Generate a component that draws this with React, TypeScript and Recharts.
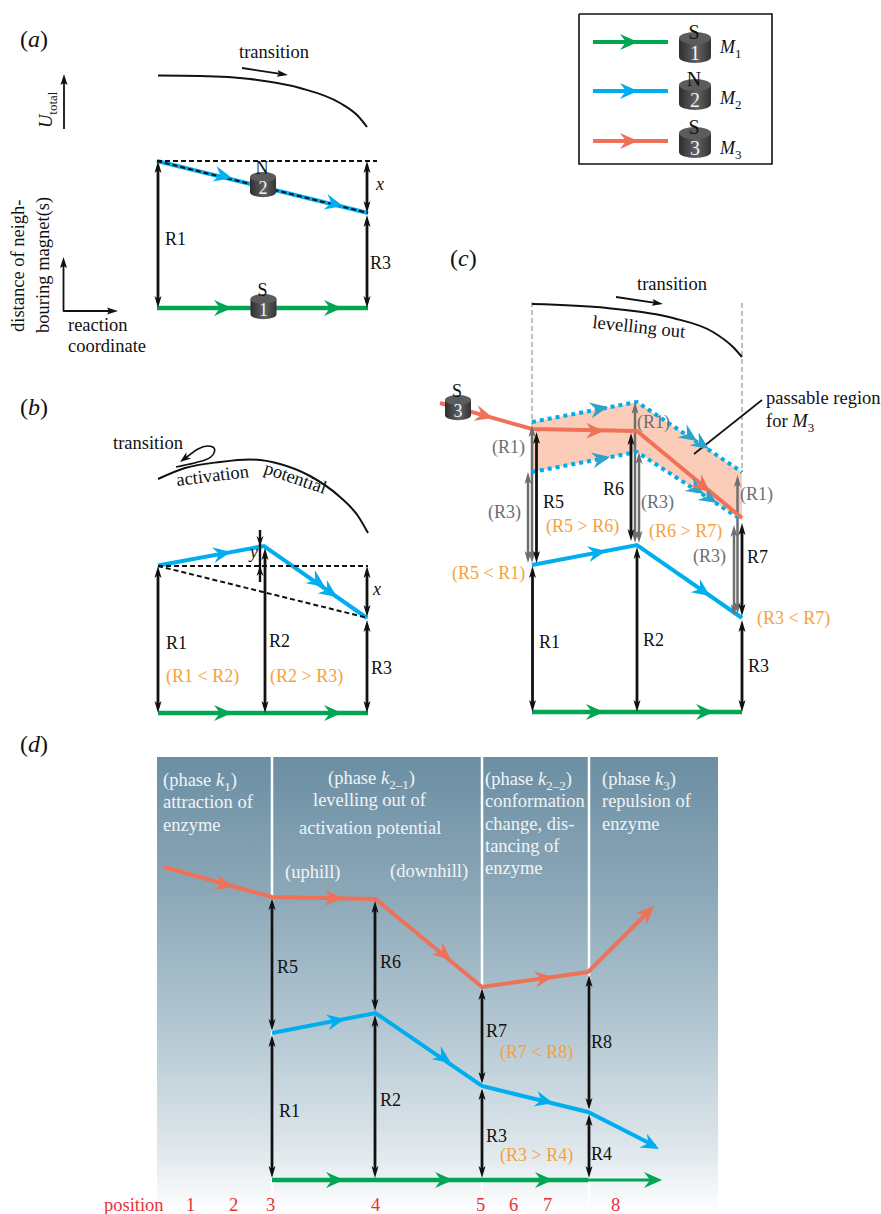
import React from 'react';
import { Area, ComposedChart, Line, ReferenceArea, XAxis, YAxis } from 'recharts';

// the whole figure shares one plane, x and y
const SERIF = '"Liberation Serif", "Times New Roman", serif';
const GREEN = '#00a651';
const BLUE = '#00aeef';
const TEAL = '#2ea3c8';
const RED = '#ef7158';
const ORANGE = '#f7a13e';
const GREY = '#6d6e71';
const INK = '#111111';
const PALE = '#f0f4f6';
const CRIMSON = '#e8303a';

type Tuple = number[];

// M1 tracks
const m1TrackA = [[157, 308], [368, 308]];
const m1TrackB = [[158, 713], [368, 713]];
const m1TrackC = [[532, 712], [742, 712]];
const m1TrackD = [[272, 1180], [588, 1180]];
const m1TrackDEnd = [[588, 1180], [655, 1180]];

// M2 tracks
const m2TrackA = [[157, 161], [368, 213]];
const m2TrackB = [[158, 565.5], [264, 546], [367, 618]];
const m2TrackC = [[532, 565], [637, 545], [742, 618]];
const m2TrackD = [[272, 1033], [375.5, 1013], [482, 1086], [588, 1112], [655, 1146]];
const m2UpperBound = [[532, 422], [637, 402], [742, 472]];
const m2LowerBound = [[532, 472], [637, 452], [742, 520]];

// M3 tracks
const m3TrackC = [[440, 403], [532, 429], [637, 431], [742, 518]];
const m3TrackD = [[164, 867], [272, 897], [375.5, 899], [482, 987], [588, 972], [650, 910]];

// passable region: x, upper edge, lower edge
const passableX = [532, 637, 742];
const passableTop = [422, 402, 472];
const passableBottom = [472, 452, 520];

// arrowheads on the tracks: tip x, tip y, heading
const m1Heads = [
  [232, 308, 0], [342, 308, 0], [232, 713, 0], [342, 713, 0], [604, 712, 0], [714, 712, 0],
  [344, 1180, 0], [453, 1180, 0], [553, 1180, 0], [662, 1180, 0],
];
const m2Heads = [
  [232, 178, 14], [343, 206, 14], [231, 552, -10], [325, 587, 35], [337, 597, 35],
  [606, 551, -10], [710, 596, 35], [345, 1019, -11], [451, 1063, 35], [553, 1103, 14], [659, 1149, 28],
];
const boundHeads = [
  [608, 407, -11], [697, 441, 34], [709, 449, 34], [610, 457, -11], [704, 494, 33], [717, 503, 33],
];
const m3Heads = [
  [493, 418, 16], [604, 431, 1], [710, 492, 40], [233, 887, 15], [343, 898, 1], [451, 960, 40],
  [553, 977, -8], [654, 906, -45],
];

// dashed helper lines
const dashedA = [[[157, 161], [377, 161]], [[157, 161], [368, 213]]];
const dashedB = [[[158, 566], [368, 566]], [[158, 566], [368, 618]]];
const greyGuides = [[[532, 302], [532, 425]], [[742, 303], [742, 472]]];

// phase borders in panel d
const phaseBorders = [272, 482, 589];

// double headed distance arrows: x, top, bottom
const blackSpans = [
  [158, 161, 308], [367, 161, 213], [367, 215, 308],
  [158, 566, 713], [265, 548, 713], [367, 566, 617], [367, 620, 713],
  [532.5, 566, 712], [637, 547, 712], [742, 620, 712], [536.5, 432, 563], [631, 433, 541], [742, 523, 616],
  [272, 898, 1031], [272, 1035, 1178], [375, 901, 1011], [375, 1015, 1178],
  [482, 988, 1084], [482, 1088, 1178], [589, 975, 1110], [589, 1114, 1178],
];
const greySpans = [
  [532, 425, 563], [528, 472, 563], [635, 402, 543], [639, 452, 543], [737.5, 475, 614], [734, 525, 616],
];
const yBar = [[260, 530], [260, 582]];
const yHeads = [[260, 546, 90], [260, 566, -90]];

// single thin arrows: from x, from y, to x, to y
const thinArrows = [
  [242, 68, 288, 75], [64, 129, 64, 74], [63.5, 311, 63.5, 257], [63, 311, 118, 311],
  [616, 297, 663, 304],
];
const legendBox = [[579, 14], [772, 14], [772, 164], [579, 164], [579, 14]];
const legendM1 = [[593, 42], [668, 42]];
const legendM2 = [[593, 91], [668, 91]];
const legendM3 = [[593, 141], [668, 141]];
const legendM1Heads = [[638, 42, 0]];
const legendM2Heads = [[638, 91, 0]];
const legendM3Heads = [[638, 141, 0]];
const pointerLine = [[762, 400], [694, 454]];

// energy curves
const curveA = [[158, 75.5], [200, 76], [250, 79], [300, 88], [340, 103], [358, 116], [367, 127]];
const curveB = [[158, 479], [185, 468], [220, 462], [250, 459.5], [280, 464], [310, 476], [340, 497], [358, 516], [368, 533]];
const curveC = [[532, 304], [607, 308], [673, 318], [713, 332], [733, 347], [742, 357]];
const loopArrow = [[176, 467], [205, 460], [214, 453], [214, 448], [208, 446], [198, 449], [183, 460]];
const loopHead = [[180, 462, 143]];

// cylinders: x, top, pole, number, size
const magnets: [number, number, string, string, number][] = [
  [263, 172, 'N', '2', 26], [263.5, 294, 'S', '1', 26], [695, 32, 'S', '1', 32],
  [695, 79, 'N', '2', 32], [695, 127, 'S', '3', 32], [458, 395, 'S', '3', 26],
];

// text: x, baseline, string (*italic*, ~subscript~)
const panelTags = [[20, 47, '(*a*)'], [20, 415, '(*b*)'], [450, 266, '(*c*)'], [20, 752, '(*d*)']];
const distanceLabels = [
  [165, 245, 'R1'], [370, 269, 'R3'], [166, 649, 'R1'], [269, 647, 'R2'], [371, 674, 'R3'],
  [543, 508, 'R5'], [603, 495, 'R6'], [747, 563, 'R7'], [539, 648, 'R1'], [643, 646, 'R2'], [748, 672, 'R3'],
  [277, 973, 'R5'], [380, 968, 'R6'], [486, 1037, 'R7'], [591, 1048, 'R8'], [279, 1117, 'R1'], [380, 1106, 'R2'], [486, 1142, 'R3'], [591, 1160, 'R4'],
  [376, 190, '*x*'], [373, 595, '*x*'], [250, 558, '*y*'],
  [720, 53, '*M*~1~'], [720, 104, '*M*~2~'], [720, 154, '*M*~3~'],
];
const wordLabels = [
  [239, 58, 'transition'], [68, 331, 'reaction'], [68, 352, 'coordinate'],
  [113, 449, 'transition'], [637, 290, 'transition'],
  [766, 404, 'passable region'], [766, 427, 'for *M*~3~'],
];
const greyLabels = [
  [492, 453, '(R1)'], [488, 518, '(R3)'], [637, 428, '(R1)'], [641, 508, '(R3)'], [740, 500, '(R1)'], [693, 562, '(R3)'],
];
const orangeLabels = [
  [166, 682, '(R1 < R2)'], [270, 682, '(R2 > R3)'], [546, 532, '(R5 > R6)'], [649, 537, '(R6 > R7)'], [452, 579, '(R5 < R1)'], [757, 624, '(R3 < R7)'],
  [500, 1058, '(R7 < R8)'], [500, 1161, '(R3 > R4)'],
];
const phaseLabels = [
  [163, 786, '(phase *k*~1~)'], [163, 808, 'attraction of'], [163, 831, 'enzyme'],
  [328, 784, '(phase *k*~2–1~)'], [313, 806, 'levelling out of'], [299, 834, 'activation potential'],
  [285, 878, '(uphill)'], [390, 877, '(downhill)'],
  [485, 785, '(phase *k*~2–2~)'], [485, 807, 'conformation'], [485, 830, 'change, dis-'], [485, 852, 'tancing of'], [485, 874, 'enzyme'],
  [602, 785, '(phase *k*~3~)'], [602, 807, 'repulsion of'], [602, 830, 'enzyme'],
];
const positionLabels = [
  [104, 1211, 'position'], [186, 1211, '1'], [229, 1211, '2'], [266, 1211, '3'], [371, 1211, '4'],
  [476, 1211, '5'], [509, 1211, '6'], [543, 1211, '7'], [611, 1211, '8'],
];
// rotated text: x, baseline, angle, string
const rotatedLabels = [
  [52, 128, -90, '*U*~total~'], [24, 332, -90, 'distance of neigh-'], [49, 333, -90, 'bouring magnet(s)'],
  [177, 486, -7, 'activation'], [263, 473, 19, 'potential'], [592, 328, 6, 'levelling out'],
];

const toPoints = (pts: Tuple[]) => pts.map(([x, y]) => ({ x, y }));

function richText(s: string) {
  let lift = 0;
  return s.split(/(\*[^*]+\*|~[^~]+~)/).filter(Boolean).map((part, i) => {
    const back = lift;
    lift = 0;
    if (part[0] === '*') return <tspan key={i} fontStyle="italic" dy={back || undefined}>{part.slice(1, -1)}</tspan>;
    if (part[0] === '~') {
      lift = -5;
      return <tspan key={i} fontSize={13} dy={5}>{part.slice(1, -1)}</tspan>;
    }
    return <tspan key={i} dy={back || undefined}>{part}</tspan>;
  });
}

const textDot = (fill: string, size = 18) => (p: any) => (
  <text key={p.index} x={p.cx} y={p.cy} fill={fill} fontFamily={SERIF} fontSize={size}>
    {richText(p.payload.text)}
  </text>
);

const rotatedDot = (p: any) => (
  <text
    key={p.index}
    x={p.cx}
    y={p.cy}
    fill={INK}
    fontFamily={SERIF}
    fontSize={18.5}
    transform={`rotate(${p.payload.deg} ${p.cx} ${p.cy})`}
  >
    {richText(p.payload.text)}
  </text>
);

const headDot = (fill: string, len: number, half: number, notch: number) => (p: any) => (
  <path
    key={p.index}
    d={`M0,0 L${-len},${-half} L${-len + notch},0 L${-len},${half} Z`}
    fill={fill}
    transform={`translate(${p.cx} ${p.cy}) rotate(${p.payload.deg})`}
  />
);

const magnetDot = (p: any) => {
  const { size, pole, num } = p.payload;
  const big = size > 30;
  const rx = size / 2;
  const ry = size * 0.19;
  const h = size * 0.78;
  const top = p.cy + ry;
  return (
    <g key={p.index}>
      <path
        d={`M${p.cx - rx},${top} V${top + h - ry} A${rx},${ry} 0 0 0 ${p.cx + rx},${top + h - ry} V${top} Z`}
        fill="url(#magnetBody)"
      />
      <ellipse cx={p.cx} cy={top} rx={rx} ry={ry} fill="#5c5c5e" />
      <text x={p.cx - 1} y={p.cy + (big ? 7 : 2)} textAnchor="middle" fill={INK} fontFamily={SERIF} fontSize={big ? 20 : 18}>{pole}</text>
      <text x={p.cx} y={top + h - 3} textAnchor="middle" fill="#f2f2f2" fontFamily={SERIF} fontSize={big ? 20 : 18}>{num}</text>
    </g>
  );
};

const labelRows = (rows: any[]) => rows.map(([x, y, text]) => ({ x, y, text }));
const headRows = (rows: Tuple[]) => rows.map(([x, y, deg]) => ({ x, y, deg }));
const spanHeads = (spans: Tuple[]) =>
  spans.flatMap(([x, top, bottom]) => [{ x, y: top, deg: -90 }, { x, y: bottom, deg: 90 }]);
const thinHeads = thinArrows.map(([x1, y1, x2, y2]) => ({
  x: x2,
  y: y2,
  deg: (Math.atan2(y2 - y1, x2 - x1) * 180) / Math.PI,
}));
const passableBand = passableX.map((x, i) => ({ x, band: [passableTop[i], passableBottom[i]] }));

let seq = 0;
function stroke(pts: Tuple[], color: string, width: number, extra: any = {}) {
  seq += 1;
  return (
    <Line
      key={`s${seq}`}
      data={toPoints(pts)}
      dataKey="y"
      stroke={color}
      strokeWidth={width}
      dot={false}
      activeDot={false}
      legendType="none"
      isAnimationActive={false}
      {...extra}
    />
  );
}

function marks(rows: any[], dot: any) {
  seq += 1;
  return (
    <Line
      key={`m${seq}`}
      data={rows}
      dataKey="y"
      stroke="none"
      dot={dot}
      activeDot={false}
      legendType="none"
      isAnimationActive={false}
    />
  );
}

const spanShaft = (spans: Tuple[], color: string, width: number) =>
  spans.map(([x, top, bottom]) => stroke([[x, top + 7], [x, bottom - 7]], color, width));

export default function App(): JSX.Element {
  seq = 0;
  return (
    <div style={{ position: 'absolute', left: 0, top: 0, width: 881, height: 1214, background: '#fff' }}>
      <ComposedChart width={881} height={1214} margin={{ top: 0, right: 0, bottom: 0, left: 0 }}>
        <defs>
          <linearGradient id="phaseFade" x1="0" y1="0" x2="0" y2="1">
            <stop offset="0" stopColor="#6b8ea3" />
            <stop offset="0.3" stopColor="#8ca8b8" />
            <stop offset="0.6" stopColor="#b4c8d3" />
            <stop offset="0.85" stopColor="#dde6eb" />
            <stop offset="1" stopColor="#ffffff" />
          </linearGradient>
          <linearGradient id="magnetBody" x1="0" y1="0" x2="1" y2="0">
            <stop offset="0" stopColor="#2e2e30" />
            <stop offset="0.55" stopColor="#626264" />
            <stop offset="1" stopColor="#333335" />
          </linearGradient>
        </defs>
        <XAxis type="number" dataKey="x" domain={[0, 881]} hide />
        <YAxis type="number" domain={[0, 1214]} reversed hide />

        <ReferenceArea x1={157} x2={718} y1={757} y2={1214} fill="url(#phaseFade)" fillOpacity={1} stroke="none" />
        <Area
          data={passableBand}
          dataKey="band"
          stroke="none"
          fill="#fbcdb9"
          fillOpacity={1}
          dot={false}
          activeDot={false}
          legendType="none"
          isAnimationActive={false}
        />
        {phaseBorders.map((x) => stroke([[x, 757], [x, 1214]], '#ffffff', 2.5))}
        {greyGuides.map((g) => stroke(g, '#aaaaaa', 1.5, { strokeDasharray: '5 3' }))}

        {stroke(legendBox, INK, 1.6)}
        {stroke(legendM1, GREEN, 4)}
        {stroke(legendM2, BLUE, 4)}
        {stroke(legendM3, RED, 4)}
        {marks(headRows(legendM1Heads), headDot(GREEN, 18, 8, 6))}
        {marks(headRows(legendM2Heads), headDot(BLUE, 18, 8, 6))}
        {marks(headRows(legendM3Heads), headDot(RED, 18, 8, 6))}

        {[curveA, curveB, curveC].map((c) => stroke(c, INK, 2, { type: 'monotone' }))}
        {stroke(loopArrow, INK, 1.6, { type: 'natural' })}
        {marks(headRows(loopHead), headDot(INK, 11, 4, 3))}
        {stroke(pointerLine, INK, 1.6)}

        {spanShaft(greySpans, GREY, 2.5)}
        {marks(spanHeads(greySpans), headDot(GREY, 12, 3.5, 3))}

        {[m1TrackA, m1TrackB, m1TrackC, m1TrackD].map((t) => stroke(t, GREEN, 4.5))}
        {stroke(m1TrackDEnd, GREEN, 3)}
        {[m2TrackA, m2TrackB, m2TrackC, m2TrackD].map((t) => stroke(t, BLUE, 4))}
        {[m2UpperBound, m2LowerBound].map((t) => stroke(t, BLUE, 4, { strokeDasharray: '4 4' }))}
        {[m3TrackC, m3TrackD].map((t) => stroke(t, RED, 4))}
        {marks(headRows(m1Heads), headDot(GREEN, 18, 8, 6))}
        {marks(headRows(m2Heads), headDot(BLUE, 18, 8, 6))}
        {marks(headRows(boundHeads), headDot(TEAL, 18, 8, 6))}
        {marks(headRows(m3Heads), headDot(RED, 18, 8, 6))}

        {[...dashedA, ...dashedB].map((d) => stroke(d, INK, 2, { strokeDasharray: '5 3' }))}

        {spanShaft(blackSpans, INK, 2.8)}
        {marks(spanHeads(blackSpans), headDot(INK, 12, 3.5, 3))}
        {stroke(yBar, INK, 2.4)}
        {marks(headRows(yHeads), headDot(INK, 10, 3.5, 3))}
        {thinArrows.map(([x1, y1, x2, y2]) => {
          const len = Math.hypot(x2 - x1, y2 - y1);
          const k = (len - 6) / len;
          return stroke([[x1, y1], [x1 + (x2 - x1) * k, y1 + (y2 - y1) * k]], INK, 1.8);
        })}
        {marks(thinHeads, headDot(INK, 11, 3.5, 2))}

        {marks(magnets.map(([x, y, pole, num, size]) => ({ x, y, pole, num, size })), magnetDot)}

        {marks(labelRows(panelTags), textDot(INK, 24))}
        {marks(labelRows(distanceLabels), textDot(INK))}
        {marks(labelRows(wordLabels), textDot(INK, 18.5))}
        {marks(labelRows(greyLabels), textDot(GREY))}
        {marks(labelRows(orangeLabels), textDot(ORANGE))}
        {marks(labelRows(phaseLabels), textDot(PALE, 18.5))}
        {marks(labelRows(positionLabels), textDot(CRIMSON, 18.5))}
        {marks(rotatedLabels.map(([x, y, deg, text]) => ({ x, y, deg, text })), rotatedDot)}
      </ComposedChart>
    </div>
  );
}
